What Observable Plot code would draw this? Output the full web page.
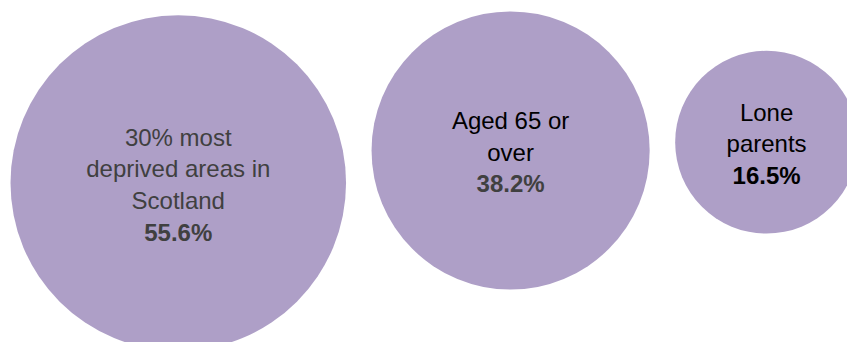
<!DOCTYPE html>
<html>
<head>
<meta charset="utf-8">
<script src="https://cdn.jsdelivr.net/npm/d3@7"></script>
<script src="https://cdn.jsdelivr.net/npm/@observablehq/plot@0.6"></script>
<style>
  html, body { margin: 0; padding: 0; background: #fff; }
  #chart svg { display: block; }
</style>
</head>
<body>
<div id="chart"></div>
<script>
// Data
const categories = ["30% most\ndeprived areas in\nScotland", "Aged 65 or\nover", "Lone\nparents"];
const values = [55.6, 38.2, 16.5];
const valueLabels = ["55.6%", "38.2%", "16.5%"];

// Layout (bubble placement)
const W = 847, H = 342;
const rMaxValue = 100, rMaxPx = 225;       // area-proportional radius scale
const leftPad = 10, gap = 25.5;
const verticalCentres = [182.5, 150, 141.7];
const labelFill = ["#404040", "#000000", "#000000"];
const valueFill = ["#404040", "#404040", "#000000"];

const rPx = v => rMaxPx * Math.sqrt(v / rMaxValue);
let cursor = leftPad;
const rows = categories.map((c, i) => {
  const r = rPx(values[i]);
  const cx = cursor + r;
  cursor = cx + r + gap;
  const nLabel = c.split("\n").length;
  return {
    category: c,
    value: values[i],
    cx,
    cy: verticalCentres[i],
    label: c + "\n",
    valueText: "\n".repeat(nLabel) + valueLabels[i],
    labelFill: labelFill[i],
    valueFill: valueFill[i]
  };
});

const font = "'Liberation Sans', Arial, Helvetica, sans-serif";

const chart = Plot.plot({
  width: W,
  height: H,
  margin: 0,
  x: {domain: [0, W], range: [0, W], axis: null},
  y: {domain: [0, H], range: [0, H], axis: null},
  r: {type: "sqrt", domain: [0, rMaxValue], range: [0, rMaxPx]},
  style: {fontFamily: font, background: "#fff"},
  marks: [
    Plot.dot(rows, {x: "cx", y: "cy", r: "value", fill: "#AE9FC7", stroke: null}),
    Plot.text(rows, {x: "cx", y: "cy", text: "label", fill: "labelFill", fontSize: 24, lineHeight: 1.32, fontFamily: font}),
    Plot.text(rows, {x: "cx", y: "cy", text: "valueText", fill: "valueFill", fontSize: 24, lineHeight: 1.32, fontWeight: "bold", fontFamily: font})
  ]
});
document.getElementById("chart").appendChild(chart);
</script>
</body>
</html>
